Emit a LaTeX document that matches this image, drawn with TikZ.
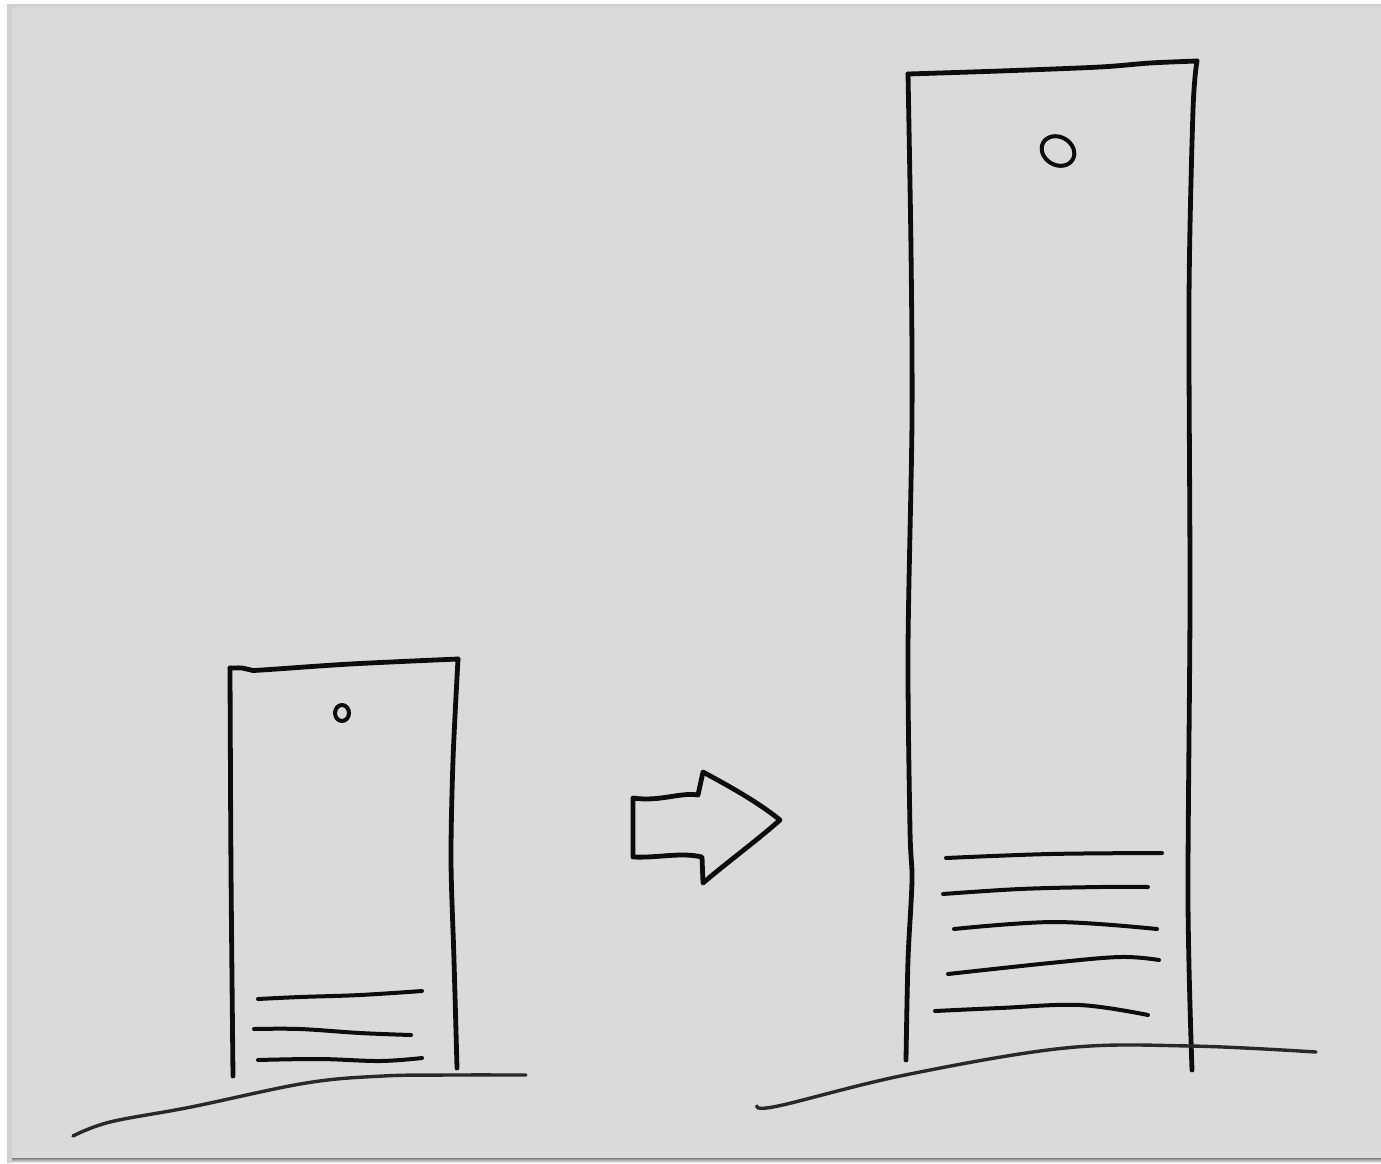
\documentclass[tikz,border=0pt]{standalone}
\usetikzlibrary{calc}
\definecolor{paper}{RGB}{218,218,218}
\definecolor{shade}{RGB}{150,150,150}
\definecolor{ink}{RGB}{12,12,12}
\definecolor{groundink}{RGB}{40,40,40}
\tikzset{
  pen/.style={draw=ink, line width=4.8pt, line cap=round, line join=round},
  thinpen/.style={draw=ink, line width=4pt, line cap=round, line join=round},
  groundpen/.style={draw=groundink, line width=3.4pt, line cap=round, line join=round},
}
\begin{document}
\begin{tikzpicture}[x=1pt,y=-1pt]
\useasboundingbox (0,0) rectangle (1381,1163);
\fill[white] (0,0) rectangle (1381,1163);
% paper shadow
\fill[shade!45] (7,4) rectangle (1381,1163);
\fill[shade] (12,1158) rectangle (1381,1163);
\fill[paper] (12,7) rectangle (1381,1158);

% ---------- left (small) building ----------
\draw[pen] plot[smooth, tension=0.5] coordinates {(230,668) (231,870) (233,1076)};
\draw[pen] plot[smooth, tension=0.5] coordinates {(230,668) (242,668) (251,670) (262,670) (350,664) (458,659)};
\draw[pen] plot[smooth, tension=0.5] coordinates {(458,659) (453,760) (451,860) (454,960) (457,1068)};
\draw[thinpen] (342,713) ellipse [x radius=7, y radius=8];
\draw[thinpen] plot[smooth, tension=0.6] coordinates {(258,999) (300,997) (360,995) (422,991)};
\draw[thinpen] plot[smooth, tension=0.6] coordinates {(254,1029) (300,1029) (360,1033) (411,1035)};
\draw[thinpen] plot[smooth, tension=0.6] coordinates {(258,1060) (320,1059) (380,1061) (422,1058)};
\draw[groundpen] plot[smooth, tension=0.6] coordinates {(73,1136) (110,1122) (191,1107) (306,1083) (383,1076) (450,1075) (526,1075)};

% ---------- arrow ----------
\draw[pen] (633,798) .. controls (660,802) and (680,792) .. (698,795)
  -- (703,772) .. controls (727,785) and (758,802) .. (780,820)
  .. controls (755,842) and (725,864) .. (703,883)
  -- (702,857) .. controls (680,852) and (660,858) .. (633,857) -- cycle;

% ---------- right (tall) building ----------
\draw[pen] plot[smooth, tension=0.5] coordinates {(908,74) (911,250) (912,420) (908,650) (910,830) (912,880) (908,960) (906,1060)};
\draw[pen] plot[smooth, tension=0.5] coordinates {(908,74) (1000,71) (1100,67) (1150,63) (1197,61)};
\draw[pen] plot[smooth, tension=0.5] coordinates {(1197,61) (1193,110) (1189,300) (1190,600) (1188,900) (1192,1070)};
\draw[thinpen] (1058,151) ellipse [x radius=17, y radius=14, rotate=-30];
\draw[thinpen] plot[smooth, tension=0.6] coordinates {(946,858) (1050,854) (1162,853)};
\draw[thinpen] plot[smooth, tension=0.6] coordinates {(943,894) (1020,889) (1100,887) (1148,887)};
\draw[thinpen] plot[smooth, tension=0.6] coordinates {(954,929) (1055,922) (1157,929)};
\draw[thinpen] plot[smooth, tension=0.6] coordinates {(948,974) (1050,963) (1120,957) (1159,960)};
\draw[thinpen] plot[smooth, tension=0.6] coordinates {(935,1011) (1000,1008) (1080,1005) (1148,1015)};
\draw[groundpen] plot[smooth, tension=0.6] coordinates {(757,1106) (778,1106) (905,1075) (1065,1048) (1191,1046) (1316,1052)};
\end{tikzpicture}
\end{document}
